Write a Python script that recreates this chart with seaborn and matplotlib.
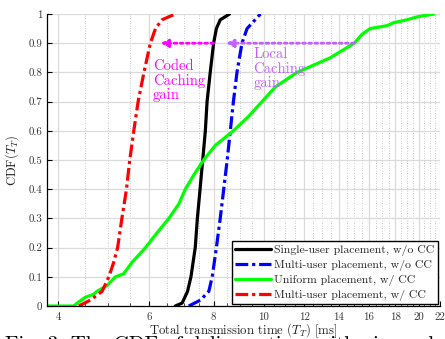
import numpy as np
import pandas as pd
import matplotlib
matplotlib.use("Agg")
import matplotlib.pyplot as plt
from matplotlib.ticker import FixedLocator, FixedFormatter, NullFormatter
import seaborn as sns

# Empirical CDF of the total transmission time for each scheme (time in ms, CDF level)
single_wo_cc_time = [6.74, 6.95, 7.12, 7.23, 7.37, 7.44, 7.53, 7.62, 7.71, 7.77, 7.88, 8.00, 8.10, 8.24, 8.59]
single_wo_cc_cdf = [0.0, 0.01, 0.05, 0.10, 0.20, 0.30, 0.40, 0.50, 0.60, 0.70, 0.80, 0.90, 0.95, 0.98, 1.0]

multi_wo_cc_time = [7.16, 7.54, 7.83, 7.95, 8.10, 8.24, 8.37, 8.50, 8.62, 8.74, 8.88, 9.08, 9.29, 9.86]
multi_wo_cc_cdf = [0.0, 0.02, 0.05, 0.10, 0.20, 0.30, 0.40, 0.50, 0.60, 0.70, 0.80, 0.90, 0.95, 1.0]

uniform_cc_time = [3.8, 4.28, 4.35, 4.51, 4.68, 4.75, 4.97, 5.16, 5.35, 5.56, 5.90, 6.21, 6.55, 6.85, 7.05,
                   7.33, 7.65, 8.06, 8.74, 9.36, 9.93, 10.54, 11.61, 13.47, 15.0, 15.52, 16.1, 17.35,
                   17.87, 18.97, 19.83, 21.4]
uniform_cc_cdf = [0.0, 0.0, 0.01, 0.03, 0.04, 0.05, 0.07, 0.10, 0.11, 0.15, 0.20, 0.25, 0.30, 0.35, 0.40,
                  0.45, 0.50, 0.55, 0.60, 0.65, 0.70, 0.75, 0.80, 0.85, 0.90, 0.93, 0.95, 0.96,
                  0.97, 0.98, 0.99, 1.0]

multi_cc_time = [4.38, 4.61, 4.86, 5.01, 5.12, 5.21, 5.31, 5.42, 5.50, 5.60, 5.71, 5.86, 6.03, 6.17, 6.35, 6.74]
multi_cc_cdf = [0.0, 0.02, 0.05, 0.10, 0.15, 0.20, 0.30, 0.40, 0.50, 0.60, 0.70, 0.80, 0.90, 0.95, 0.98, 1.0]

series_names = [
    "Single-user placement, w/o CC",
    "Multi-user placement, w/o CC",
    "Uniform placement, w/ CC",
    "Multi-user placement, w/ CC",
]

x_ticks = [4, 6, 8, 10, 12, 14, 16, 18, 20, 22]
y_ticks = [0, 0.1, 0.2, 0.3, 0.4, 0.5, 0.6, 0.7, 0.8, 0.9, 1]
y_tick_labels = ["0", "0.1", "0.2", "0.3", "0.4", "0.5", "0.6", "0.7", "0.8", "0.9", "1"]

# Gain arrows at CDF = 0.9: (start time, end time)
coded_gain = (8.00, 6.31)
local_gain = (15.0, 8.45)
gain_level = 0.9

sns.set_theme(style="white")
plt.rcParams["font.family"] = ["cmr10", "DejaVu Serif"]
plt.rcParams["mathtext.fontset"] = "cm"
plt.rcParams["axes.unicode_minus"] = False
plt.rcParams["axes.formatter.use_mathtext"] = True

fig = plt.figure(figsize=(4.45, 3.39), dpi=100)
ax = fig.add_axes([0.1056, 0.0973, 0.8832, 0.8614])

frames = {
    series_names[0]: (single_wo_cc_time, single_wo_cc_cdf),
    series_names[1]: (multi_wo_cc_time, multi_wo_cc_cdf),
    series_names[2]: (uniform_cc_time, uniform_cc_cdf),
    series_names[3]: (multi_cc_time, multi_cc_cdf),
}
styles = {
    series_names[0]: dict(color="black", linestyle="-"),
    series_names[1]: dict(color="#0000FF", linestyle=(0, (4.0, 1.2, 1.0, 1.2))),
    series_names[2]: dict(color="#00FF00", linestyle="-"),
    series_names[3]: dict(color="#FF0000", linestyle=(0, (4.0, 1.2, 1.0, 1.2))),
}

for name, (t, c) in frames.items():
    df = pd.DataFrame({"time": t, "cdf": c})
    sns.lineplot(data=df, x="time", y="cdf", ax=ax, estimator=None, sort=False,
                 linewidth=2.3, label=name, **styles[name])

ax.set_xscale("log")
ax.set_xlim(3.8, 22)
ax.set_ylim(0, 1)

ax.xaxis.set_major_locator(FixedLocator(x_ticks))
ax.xaxis.set_major_formatter(FixedFormatter([str(v) for v in x_ticks]))
minor = [v for v in np.arange(4.0, 22.01, 0.5) if v not in x_ticks]
ax.xaxis.set_minor_locator(FixedLocator(minor))
ax.xaxis.set_minor_formatter(NullFormatter())
ax.yaxis.set_major_locator(FixedLocator(y_ticks))
ax.yaxis.set_major_formatter(FixedFormatter(y_tick_labels))

ax.grid(True, which="major", color="#DADADA", linewidth=0.9, linestyle="-")
ax.grid(True, which="minor", axis="x", color="#B8B8B8", linewidth=0.6, linestyle=(0, (1, 2)))
ax.set_axisbelow(True)

for side in ["top", "right"]:
    ax.spines[side].set_visible(False)
for side in ["left", "bottom"]:
    ax.spines[side].set_color("black")
    ax.spines[side].set_linewidth(0.9)

ax.tick_params(axis="both", which="major", direction="in", length=3.5, width=0.8,
               labelsize=7.8, colors="black", labelcolor="#333333", bottom=True, left=True)
ax.tick_params(axis="x", which="minor", direction="in", length=2.0, width=0.6, bottom=True)
ax.tick_params(axis="x", which="major", pad=4.5)

ax.set_xlabel("Total transmission time $(T_T)$ [ms]", fontsize=9.2, labelpad=0, color="#222222")
ax.set_ylabel("CDF$(T_T)$", fontsize=9.2, labelpad=5, color="#222222")

# Gain annotations
ax.annotate("", xy=(coded_gain[1], gain_level), xytext=(coded_gain[0], gain_level),
            arrowprops=dict(arrowstyle="-|>", color="#FF00FF", linestyle=(0, (1, 1.2)),
                            linewidth=2.0, mutation_scale=11, shrinkA=0, shrinkB=0))
ax.annotate("", xy=(local_gain[1], gain_level), xytext=(local_gain[0], gain_level),
            arrowprops=dict(arrowstyle="-|>", color="#BF60FF", linestyle=(0, (1, 1.2)),
                            linewidth=2.0, mutation_scale=11, shrinkA=0, shrinkB=0))
ax.text(6.10, 0.845, "Coded\nCaching\ngain", color="#FF00FF", fontsize=10.5,
        va="top", ha="left", linespacing=1.05)
ax.text(9.55, 0.885, "Local\nCaching\ngain", color="#BF60FF", fontsize=10.5,
        va="top", ha="left", linespacing=1.05)

leg = ax.legend(loc="lower right", fontsize=8.5, frameon=True, fancybox=False,
                edgecolor="black", framealpha=1.0, handlelength=3.0, handletextpad=0.3,
                borderpad=0.3, labelspacing=0.3, borderaxespad=0.15)
leg.get_frame().set_linewidth(1.0)

fig.text(0.012, 0.008, "Fig. 3: The CDF of delivery time with given algorithms",
         fontsize=15, va="top", ha="left", color="black")

fig.savefig("out.png", dpi=100)
